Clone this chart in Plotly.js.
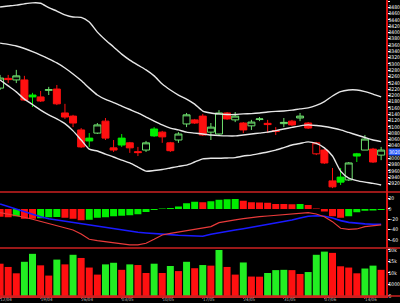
<!DOCTYPE html>
<html><head><meta charset="utf-8">
<script src="https://cdn.plot.ly/plotly-3.0.1.min.js"></script>
<style>html,body{margin:0;padding:0;background:#000;}#chart{width:400px;height:303px;}</style>
</head><body><div id="chart"></div>
<script>
// ---- data (48 sessions) ----
const open  = [3223,3254,3249,3249,3201,3195,3216,3220,3144,3134,3090,3064,3080,3118,3033,3064,3049,3021,3026,3093,3083,3049,3058,3109,3122,3134,3083,3077,3144,3122,3112,3103,3123,3111,3088,3110,3118,3128,3112,3014,3026,2928,2940,2931,3014,3026,3029,3010];
const high  = [3265,3265,3281,3262,3208,3214,3227,3233,3173,3138,3096,3080,3112,3128,3058,3077,3052,3036,3055,3099,3087,3052,3083,3144,3125,3141,3112,3153,3147,3147,3115,3122,3131,3122,3099,3128,3122,3144,3115,3052,3029,2969,2969,2988,3017,3074,3033,3036];
const low   = [3217,3239,3239,3182,3163,3179,3201,3169,3125,3099,3033,3036,3077,3058,3020,3036,3017,3007,3020,3068,3049,3020,3049,3099,3109,3071,3058,3074,3122,3115,3080,3090,3118,3080,3074,3099,3103,3118,3093,3010,2982,2905,2915,2928,2988,3026,2985,2994];
const close = [3255,3250,3262,3185,3195,3182,3218,3173,3131,3112,3036,3055,3106,3064,3026,3042,3033,3018,3049,3071,3068,3024,3077,3138,3112,3074,3099,3144,3125,3134,3090,3115,3125,3107,3085,3114,3106,3134,3096,3049,2985,2909,2924,2985,3007,3061,2988,3026];
const bbUpper = [3481,3484,3487,3491,3494,3493,3479,3468,3456,3449,3448,3433,3401,3376,3354,3331,3312,3296,3281,3262,3236,3217,3201,3188,3172,3150,3144,3141,3139,3139,3141,3142,3144,3147,3149,3150,3153,3157,3160,3168,3180,3198,3212,3217,3217,3212,3204,3195];
const bbMid   = [3366,3362,3357,3349,3339,3328,3316,3303,3287,3268,3247,3223,3201,3187,3177,3166,3155,3144,3131,3118,3106,3096,3090,3083,3080,3077,3074,3072,3071,3071,3074,3077,3080,3083,3088,3093,3098,3103,3106,3104,3101,3096,3090,3082,3074,3066,3058,3053];
const bbLower = [3249,3230,3211,3188,3171,3153,3138,3125,3110,3087,3058,3029,3023,3013,3004,2994,2985,2972,2959,2961,2964,2969,2974,2978,2988,2998,3000,3000,3001,3002,3007,3010,3015,3020,3026,3034,3042,3047,3052,3047,3033,3007,2959,2937,2929,2924,2920,2915];
const macdHist = [-15,-16,-14,-19,-19,-18,-16,-15.5,-17,-19,-22,-21,-17,-16,-14,-13,-12,-10,-6,-2,1,2,5,11,14,13,15,18,19,19.5,16,13,12.5,12,9.7,9.5,9,9.5,7.8,1,-5,-14,-17,-14,-6.5,-3.2,-3,-2];
const macdLine = [-7.2,-9.7,-12.2,-16,-20,-24,-27.8,-33,-35.6,-40.7,-48.5,-58.8,-61.4,-63.4,-66.6,-68.5,-69.8,-69.8,-66.6,-58.8,-50.4,-47.2,-44.6,-42,-38.8,-37.5,-34.3,-26.5,-23.3,-21.3,-18.8,-16.2,-15,-13.6,-12.3,-11,-9.7,-7.1,-7.1,-9.7,-15,-24.6,-37.5,-39.5,-38.8,-34.3,-32.4,-31];
const signalLine = [9.7,4.5,-0.6,-4.6,-9.7,-15,-18.8,-21.3,-24,-26,-27.8,-30.4,-33,-35.5,-38,-40.7,-43,-45.2,-46.5,-47.2,-48.5,-49.8,-51,-51.7,-52.4,-53,-49.1,-45.9,-43.3,-40.7,-38.2,-35.6,-32.3,-29.8,-27.2,-24.6,-21.3,-17.5,-14.2,-13,-14.2,-17.5,-22.6,-26,-27.8,-29,-29.7,-29.7];
const volume = [14040,12630,9870,14870,18330,13330,8880,15830,13750,17920,16540,12370,9300,13750,14450,11380,13750,13460,10000,14040,10000,13040,10830,14870,12080,13460,13200,20000,12630,9300,14580,8460,8400,10000,11250,11380,11250,9580,10420,17920,19300,18750,12920,12370,9870,11950,13200,11380];
const tickIdx = [0,5,10,15,20,25,30,35,40,45];
const tickLabels = ['12/04','19/04','26/04','03/05','10/05','17/05','24/05','31/05','07/06','14/06'];
const priceTicks = [];
for (let v = 2920; v <= 3500; v += 20) priceTicks.push(v);
const macdTicks = [20, 0, -20, -40, -60];
const volTicks = [0, 5000, 10000, 15000, 20000];

// ---- styling ----
const GREEN = '#00ee00', GREEN_HOLLOW = '#6ee06e', RED = '#ff1010';
const FONT = 'Liberation Sans Narrow, DejaVu Sans Condensed, Arial Narrow, sans-serif';
const idx = close.map((_, i) => i);
const upIds = idx.filter(i => i === 0 || close[i] >= close[i - 1]);
const dnIds = idx.filter(i => !(i === 0 || close[i] >= close[i - 1]));
const pick = (arr, ids) => ids.map(i => arr[i]);
const candle = (ids, hollowCol, fillCol) => ({
  type: 'candlestick', x: ids, open: pick(open, ids), high: pick(high, ids),
  low: pick(low, ids), close: pick(close, ids), xaxis: 'x', yaxis: 'y',
  increasing: {line: {color: hollowCol, width: 1}, fillcolor: '#000'},
  decreasing: {line: {color: fillCol, width: 1}, fillcolor: fillCol},
  whiskerwidth: 0, hoverinfo: 'skip'
});
const band = y => ({type: 'scatter', mode: 'lines', x: idx, y: y, xaxis: 'x', yaxis: 'y',
  line: {color: '#e6e6e6', width: 1.4, shape: 'spline', smoothing: 0.6}, hoverinfo: 'skip'});

const histColors = macdHist.map((v, i) => (i > 0 && v > macdHist[i - 1]) ? GREEN : RED);
const volColors = volume.map((v, i) => (i > 0 && v > volume[i - 1]) ? '#22ee22' : RED);

// highlighted last price: nearest price tick
const lastClose = close[close.length - 1];
const hiTick = priceTicks.reduce((a, b) => Math.abs(b - lastClose) < Math.abs(a - lastClose) ? b : a);
const shownTicks = priceTicks.filter(v => v !== hiTick);

const traces = [
  band(bbUpper), band(bbMid), band(bbLower),
  candle(upIds, GREEN_HOLLOW, GREEN),
  candle(dnIds, RED, RED),
  {type: 'bar', x: idx, y: macdHist, xaxis: 'x', yaxis: 'y2', marker: {color: histColors, line: {width: 0}}, hoverinfo: 'skip'},
  {type: 'scatter', mode: 'lines', x: idx, y: signalLine, xaxis: 'x', yaxis: 'y2', line: {color: '#1a1aff', width: 1.6}, hoverinfo: 'skip'},
  {type: 'scatter', mode: 'lines', x: idx, y: macdLine, xaxis: 'x', yaxis: 'y2', line: {color: '#e83a3a', width: 1.2}, hoverinfo: 'skip'},
  {type: 'bar', x: idx, y: volume, xaxis: 'x', yaxis: 'y3', marker: {color: volColors, line: {width: 0}}, hoverinfo: 'skip'}
];

const yBase = {side: 'right', anchor: 'x', showgrid: false, zeroline: false, showline: true,
  linecolor: '#dd1111', linewidth: 1.5, ticks: 'outside', ticklen: 2, tickcolor: '#ffffff',
  ticklabelstandoff: -2,
  tickfont: {family: FONT, size: 5, color: '#ffffff'}, fixedrange: true};
const sep = y => ({type: 'line', xref: 'paper', yref: 'paper', x0: 0, x1: 1.04, y0: y, y1: y,
  line: {color: '#cc2020', width: 1.5}});

const layout = {
  width: 400, height: 303,
  margin: {l: 0, r: 14, t: 0, b: 7, pad: 0},
  paper_bgcolor: '#000', plot_bgcolor: '#000',
  showlegend: false, hovermode: false,
  boxgap: 0.14, boxgroupgap: 0, bargap: 0.14,
  xaxis: {domain: [0, 1], range: [-0.01, 47.6], anchor: 'y3', rangeslider: {visible: false},
    showgrid: false, zeroline: false, showline: true, linecolor: '#cc2020', linewidth: 1.5,
    ticks: 'outside', ticklen: 1, tickcolor: '#cc2020',
    tickvals: tickIdx, ticktext: tickLabels, ticklabelshift: 6, ticklabelstandoff: -3,
    tickfont: {family: FONT, size: 4.5, color: '#bbbbbb'}},
  yaxis: Object.assign({}, yBase, {domain: [0.353, 1], range: [2894.2, 3503.2], tickvals: shownTicks}),
  yaxis2: Object.assign({}, yBase, {domain: [0.1622, 0.3497], range: [-75.7, 32], tickvals: macdTicks}),
  yaxis3: Object.assign({}, yBase, {domain: [0, 0.1588], range: [0, 20435], tickvals: volTicks}),
  shapes: [sep(0.3514), sep(0.1622), sep(0)],
  annotations: [{xref: 'paper', x: 1, xanchor: 'left', xshift: 2, yref: 'y', y: hiTick,
    text: String(hiTick), showarrow: false, bgcolor: '#2a5cff',
    borderpad: 0, font: {family: FONT, size: 5, color: '#ffffff'}}]
};

Plotly.newPlot('chart', traces, layout, {staticPlot: true, displayModeBar: false});
</script>
</body></html>
